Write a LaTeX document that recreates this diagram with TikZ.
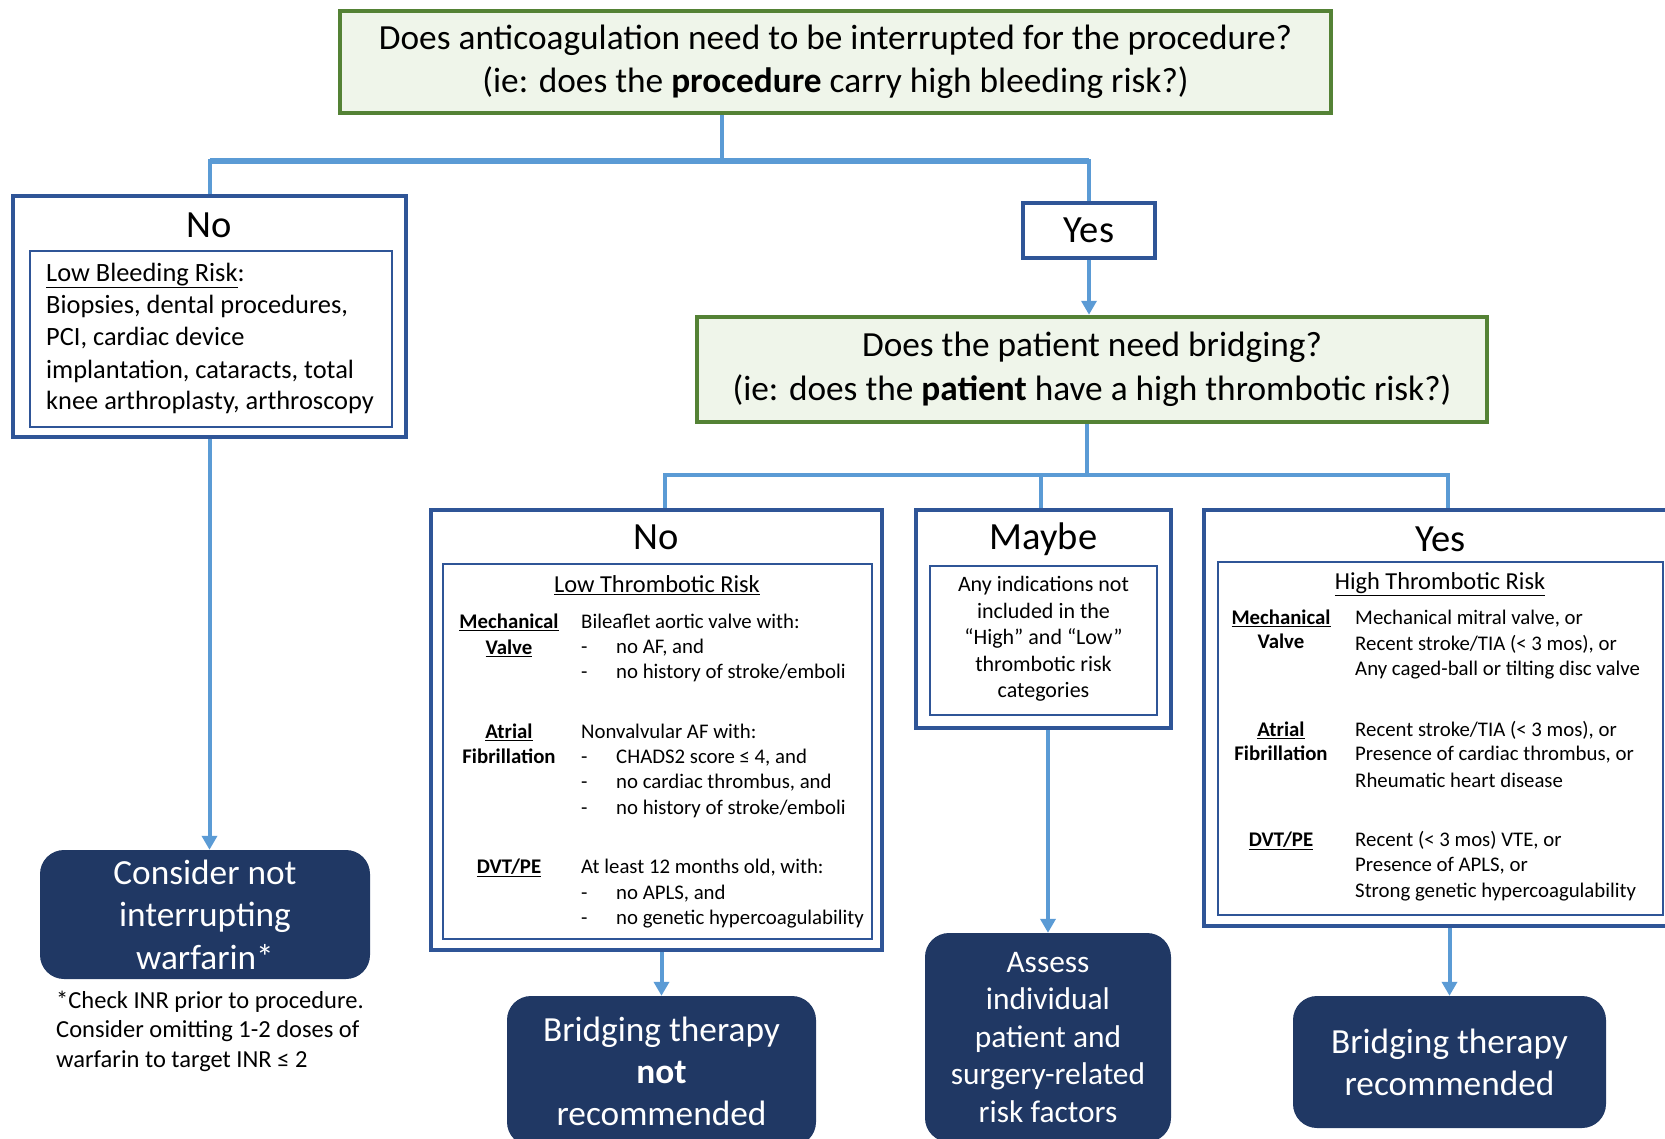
\documentclass[tikz,border=0pt]{standalone}
\usepackage{fontspec}
\setmainfont{Carlito}
\usetikzlibrary{arrows.meta}
\definecolor{qgreen}{HTML}{548235}
\definecolor{qfill}{HTML}{EFF5EA}
\definecolor{boxblue}{HTML}{2F5597}
\definecolor{linkblue}{HTML}{5B9BD5}
\definecolor{navy}{HTML}{203864}
\newcommand{\fs}[2]{\fontsize{#1}{#2}\selectfont}

\begin{document}
\begin{tikzpicture}[x=1pt,y=-1pt,>={Triangle[width=15pt,length=14pt]},
    question/.style={draw=qgreen,fill=qfill,line width=4.5pt,align=center,inner sep=0pt,font=\fs{35.3}{43.5}},
    outer/.style={draw=boxblue,line width=4pt,inner sep=0pt},
    inner/.style={draw=boxblue,line width=1.5pt,inner sep=0pt},
    title/.style={inner sep=0pt,anchor=base,font=\fs{38.5}{46}},
    final/.style={fill=navy,text=white,rounded corners=24pt,align=center,inner sep=0pt},
    link/.style={draw=linkblue,line width=4pt},
    row/.style={inner sep=0pt,anchor=base west},
    crow/.style={inner sep=0pt,anchor=base}]
    \useasboundingbox (0,0) rectangle (1665,1138);
    \clip (0,0) rectangle (1665,1138);

    \node[question,minimum width=991,minimum height=102] (q1) at (835.5,62)
        {Does anticoagulation need to be interrupted for the procedure?\\(ie: does the \textbf{procedure} carry high bleeding risk?)};

    \node[outer,minimum width=393,minimum height=241] (no1) at (209.5,316.5) {};
    \node[title] (no1t) at (209.5,237.3) {No};
    \node[inner,minimum width=362,minimum height=176] (no1i) at (211,339) {};
    \foreach \y/\t [count=\i] in {274/{\underline{Low Bleeding Risk}:},306/{Biopsies, dental procedures,},
        338/{PCI, cardiac device},371/{implantation, cataracts, total},402/{knee arthroplasty, arthroscopy}}
        \node[row,font=\fs{26.4}{32}] (no1l\i) at (46,\y+7.4) {\t};

    \node[outer,minimum width=132,minimum height=55,font=\fs{38.5}{46}] (yes1) at (1089,230.5) {Yes};

    \node[question,minimum width=790,minimum height=105] (q2) at (1092,369.5)
        {Does the patient need bridging?\\(ie: does the \textbf{patient} have a high thrombotic risk?)};

    % low thrombotic risk
    \node[outer,minimum width=451,minimum height=440] (no2) at (656.5,730) {};
    \node[title] (no2t) at (656.5,549.3) {No};
    \node[inner,minimum width=429,minimum height=375] (no2i) at (657.5,751.5) {};
    \node[crow,font=\fs{24.4}{29}] (no2h) at (657,592.8) {\underline{Low Thrombotic Risk}};
    \foreach \y/\t [count=\i] in {623/\underline{Mechanical},649/\underline{Valve},733/\underline{Atrial},758/Fibrillation,868/\underline{DVT/PE}}
        \node[crow,font=\fs{20.8}{25}\bfseries] (no2k\i) at (509,\y+5.8) {\t};
    \foreach \y/\t [count=\i] in {623/{Bileaflet aortic valve with:},733/{Nonvalvular AF with:},868/{At least 12 months old, with:}}
        \node[row,font=\fs{20.8}{25}] (no2a\i) at (581,\y+5.8) {\t};
    \foreach \y/\t [count=\i] in {648/{no AF, and},673/{no history of stroke/emboli},758/{CHADS2 score ≤ 4, and},
        783/{no cardiac thrombus, and},809/{no history of stroke/emboli},894/{no APLS, and},919/{no genetic hypercoagulability}} {
        \node[row,font=\fs{20.8}{25}] (no2d\i) at (581,\y+5.8) {-};
        \node[row,font=\fs{20.8}{25}] (no2b\i) at (616,\y+5.8) {\t};
    }

    % maybe
    \node[outer,minimum width=255,minimum height=218] (maybe) at (1043.5,619) {};
    \node[title] (maybet) at (1043.5,549.3) {Maybe};
    \node[inner,minimum width=227,minimum height=149] (maybei) at (1043.5,640.5) {};
    \foreach \y/\t [count=\i] in {585/Any indications not,612/included in the,638/“High” and “Low”,665/thrombotic risk,691/categories}
        \node[crow,font=\fs{22}{26}] (maybel\i) at (1043.5,\y+6.2) {\t};

    % high thrombotic risk
    \node[outer,minimum width=473,minimum height=416] (yes2) at (1440.5,718) {};
    \node[title] (yes2t) at (1440.5,551.3) {Yes};
    \node[inner,minimum width=445,minimum height=353] (yes2i) at (1440.5,738.5) {};
    \node[crow,font=\fs{24.4}{29}] (yes2h) at (1440,589.8) {\underline{High Thrombotic Risk}};
    \foreach \y/\t [count=\i] in {619/\underline{Mechanical},643/Valve,731/\underline{Atrial},755/Fibrillation,841/\underline{DVT/PE}}
        \node[crow,font=\fs{20.8}{25}\bfseries] (yes2k\i) at (1281,\y+5.8) {\t};
    \foreach \y/\t [count=\i] in {619/{Mechanical mitral valve, or},645/{Recent stroke/TIA (< 3 mos), or},670/{Any caged-ball or tilting disc valve},
        731/{Recent stroke/TIA (< 3 mos), or},755/{Presence of cardiac thrombus, or},782/{Rheumatic heart disease},
        841/{Recent (< 3 mos) VTE, or},866/{Presence of APLS, or},892/{Strong genetic hypercoagulability}}
        \node[row,font=\fs{20.8}{25}] (yes2a\i) at (1355,\y+5.8) {\t};

    % outcomes
    \node[final,minimum width=330,minimum height=129,font=\fs{35.3}{42.5}] (warf) at (205,914.5)
        {Consider not\\interrupting\\warfarin*};
    \foreach \y/\t [count=\i] in {1002/{*Check INR prior to procedure.},1031/{Consider omitting 1-2 doses of},1061/{warfarin to target INR ≤ 2}}
        \node[row,font=\fs{24.5}{29}] (foot\i) at (56,\y+6.9) {\t};
    \node[final,minimum width=309,minimum height=150,font=\fs{35.3}{42}] (bnot) at (661.5,1071)
        {Bridging therapy\\\textbf{not}\\recommended};
    \node[final,minimum width=246,minimum height=209,font=\fs{31.4}{37.5}] (assess) at (1048,1037.5)
        {Assess\\individual\\patient and\\surgery-related\\risk factors};
    \node[final,minimum width=313,minimum height=132,font=\fs{35.3}{42}] (brec) at (1449.5,1062)
        {Bridging therapy\\recommended};

    % connectors
    \coordinate (j1) at (722,161);
    \draw[link] (j1 |- q1.south) -- (j1);
    \draw[link] (no1.north) -- (no1.north |- j1) -- (yes1.north |- j1) -- (yes1.north);
    \draw[link,line width=6pt] (no1.north |- j1) -- (yes1.north |- j1);
    \draw[link,->] (yes1.south) -- (yes1.south |- q2.north);
    \draw[link,->] (no1.south) -- (no1.south |- warf.north);

    \coordinate (j2) at (1087,475);
    \coordinate (b2l) at (665,475);
    \coordinate (b2m) at (1041,475);
    \coordinate (b2r) at (1448,475);
    \draw[link] (j2 |- q2.south) -- (j2);
    \draw[link] (b2l |- no2.north) -- (b2l) -- (b2r) -- (b2r |- yes2.north);
    \draw[link] (b2m) -- (b2m |- maybe.north);
    \draw[link,->] (bnot.north |- no2.south) -- (bnot.north);
    \draw[link,->] (assess.north |- maybe.south) -- (assess.north);
    \draw[link,->] (brec.north |- yes2.south) -- (brec.north);
\end{tikzpicture}
\end{document}
